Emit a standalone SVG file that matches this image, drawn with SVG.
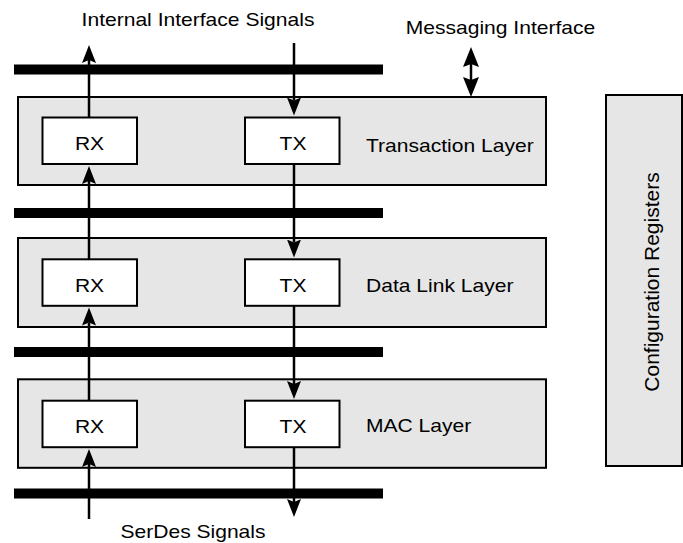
<svg xmlns="http://www.w3.org/2000/svg" width="683" height="543" viewBox="0 0 683 543">
<style>
.layer{fill:#e6e6e6;stroke:#000;stroke-width:2}
.blk{fill:#fff;stroke:#000;stroke-width:2}
.bus{fill:#000}
.t{font-family:"Liberation Sans",Arial,sans-serif;font-size:18px;fill:#000}
.c{text-anchor:middle}
.ln{stroke:#000;stroke-width:2.5;fill:none}
.ar{marker-end:url(#ah)}
.dar{marker-end:url(#ahd);marker-start:url(#ahs)}
</style>
<defs>
<marker id="ah" markerUnits="userSpaceOnUse" markerWidth="20" markerHeight="16" viewBox="0 -8 20 16" refX="3" refY="0" orient="auto"><path d="M0,-7 L18,0 L0,7 L3,0 Z" fill="#000"/></marker>
<marker id="ahd" markerUnits="userSpaceOnUse" markerWidth="22" markerHeight="18" viewBox="0 -9 22 18" refX="3" refY="0" orient="auto"><path d="M0,-8 L20,0 L0,8 L3,0 Z" fill="#000"/></marker>
<marker id="ahs" markerUnits="userSpaceOnUse" markerWidth="22" markerHeight="18" viewBox="0 -9 22 18" refX="3" refY="0" orient="auto-start-reverse"><path d="M0,-8 L20,0 L0,8 L3,0 Z" fill="#000"/></marker>
</defs>
<rect width="683" height="543" fill="#fff"/>

<g id="buses">
<rect class="bus" x="14" y="64.5" width="369" height="10"/>
<rect class="bus" x="14" y="208" width="369" height="10"/>
<rect class="bus" x="14" y="347" width="369" height="10"/>
<rect class="bus" x="14" y="488.5" width="369" height="10"/>
</g>

<g id="transaction-layer">
<rect class="layer" x="18" y="97" width="528" height="88"/>
<text class="t" transform="translate(366,151.7) scale(1.17,1)">Transaction Layer</text>
</g>
<g id="tl-rx"><rect class="blk" x="42.5" y="117.5" width="94.5" height="46.5"/><text class="t c" transform="translate(89.5,150) scale(1.17,1)">RX</text></g>
<g id="tl-tx"><rect class="blk" x="245" y="117.5" width="94.5" height="46.5"/><text class="t c" transform="translate(293,150) scale(1.17,1)">TX</text></g>

<g id="data-link-layer">
<rect class="layer" x="18" y="238" width="528" height="89"/>
<text class="t" transform="translate(366,291.7) scale(1.17,1)">Data Link Layer</text>
</g>
<g id="dl-rx"><rect class="blk" x="42.5" y="259.3" width="94.5" height="46.5"/><text class="t c" transform="translate(89.5,291.7) scale(1.17,1)">RX</text></g>
<g id="dl-tx"><rect class="blk" x="245" y="259.3" width="94.5" height="46.5"/><text class="t c" transform="translate(293,291.7) scale(1.17,1)">TX</text></g>

<g id="mac-layer">
<rect class="layer" x="18" y="379.3" width="528" height="88.5"/>
<text class="t" transform="translate(366,431.7) scale(1.17,1)">MAC Layer</text>
</g>
<g id="mac-rx"><rect class="blk" x="42.5" y="400.7" width="94.5" height="46.5"/><text class="t c" transform="translate(89.5,433) scale(1.17,1)">RX</text></g>
<g id="mac-tx"><rect class="blk" x="245" y="400.7" width="94.5" height="46.5"/><text class="t c" transform="translate(293,433) scale(1.17,1)">TX</text></g>

<g id="config-registers">
<rect class="layer" x="606" y="95" width="76" height="371"/>
<text class="t c" style="font-size:21px" transform="translate(658.5,282) rotate(-90)">Configuration Registers</text>
</g>

<g id="labels">
<text class="t c" transform="translate(198,26.3) scale(1.17,1)">Internal Interface Signals</text>
<text class="t c" transform="translate(500.5,34) scale(1.17,1)">Messaging Interface</text>
<text class="t c" transform="translate(193,538.3) scale(1.17,1)">SerDes Signals</text>
</g>

<g id="connectors">
<line class="ln ar" x1="89" y1="117.5" x2="89" y2="60"/>
<line class="ln ar" x1="89" y1="259.3" x2="89" y2="181"/>
<line class="ln ar" x1="89" y1="400.7" x2="89" y2="322.5"/>
<line class="ln ar" x1="89" y1="519" x2="89" y2="464"/>
<line class="ln ar" x1="294" y1="43" x2="294" y2="100.5"/>
<line class="ln ar" x1="294" y1="164" x2="294" y2="242.5"/>
<line class="ln ar" x1="294" y1="305.8" x2="294" y2="384"/>
<line class="ln ar" x1="294" y1="447.2" x2="294" y2="502"/>
<line class="ln dar" x1="471" y1="64" x2="471" y2="80"/>
</g>
</svg>
